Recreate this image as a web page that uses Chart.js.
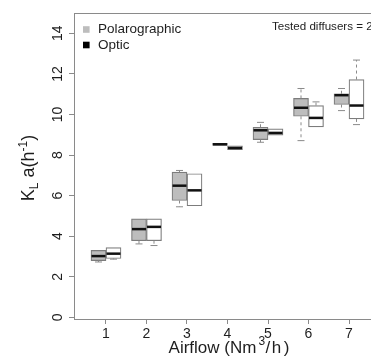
<!DOCTYPE html>
<html>
<head>
<meta charset="utf-8">
<script src="https://cdn.jsdelivr.net/npm/chart.js@4"></script>
<style>
html,body{margin:0;padding:0;overflow:hidden;background:#fff;}
#wrap{width:400px;height:359px;position:relative;}
</style>
</head>
<body>
<div id="wrap"><canvas id="c"></canvas></div>
<script>
// ---- data ----
const airflow = [1, 2, 3, 4, 5, 6, 7];
const xTickLabels = ['1', '2', '3', '4', '5', '6', '7'];
const yTickValues = [0, 2, 4, 6, 8, 10, 12, 14];

// Polarographic probe (grey boxes)
const polMin    = [2.73, 3.62, 5.45, 8.46, 8.63, 8.71, 10.19];
const polQ1     = [2.80, 3.78, 5.76, 8.48, 8.76, 9.91, 10.49];
const polMedian = [3.02, 4.35, 6.49, 8.53, 9.22, 10.33, 10.95];
const polQ3     = [3.30, 4.86, 7.16, 8.58, 9.37, 10.79, 11.02];
const polMax    = [3.32, 4.86, 7.24, 8.60, 9.61, 11.28, 11.28];

// Optic probe (white boxes)
const optMin    = [2.87, 3.54, 5.50, 8.25, 8.96, 9.39, 9.50];
const optQ1     = [2.90, 3.78, 5.50, 8.27, 8.98, 9.39, 9.78];
const optMedian = [3.14, 4.46, 6.26, 8.35, 9.09, 9.83, 10.44];
const optQ3     = [3.44, 4.86, 7.08, 8.46, 9.29, 10.44, 11.72];
const optMax    = [3.46, 4.86, 7.08, 8.48, 9.30, 10.62, 12.68];

const seriesNames = ['Polarographic', 'Optic'];
const annotationText = 'Tested diffusers = 2';

// ---- styling ----
const AXIS = '#8a8a8a';
const TEXT = '#1e1e1e';
const FONT = '"Liberation Sans", Arial, Helvetica, sans-serif';

const stats = [
  {min: polMin, q1: polQ1, med: polMedian, q3: polQ3, max: polMax},
  {min: optMin, q1: optQ1, med: optMedian, q3: optQ3, max: optMax}
];

const boxExtras = {
  id: 'boxExtras',
  afterDatasetsDraw(chart) {
    const ctx = chart.ctx;
    const ys = chart.scales.y;
    stats.forEach((s, d) => {
      const meta = chart.getDatasetMeta(d);
      meta.data.forEach((bar, i) => {
        const cx = bar.x;
        const w = bar.width;
        const pMin = ys.getPixelForValue(s.min[i]);
        const pQ1 = ys.getPixelForValue(s.q1[i]);
        const pQ3 = ys.getPixelForValue(s.q3[i]);
        const pMax = ys.getPixelForValue(s.max[i]);
        const pMed = ys.getPixelForValue(s.med[i]);
        ctx.save();
        ctx.strokeStyle = AXIS;
        ctx.lineWidth = 1;
        ctx.setLineDash([3, 3]);
        ctx.beginPath();
        if (pMax < pQ3 - 0.5) { ctx.moveTo(cx, pQ3); ctx.lineTo(cx, pMax); }
        if (pMin > pQ1 + 0.5) { ctx.moveTo(cx, pQ1); ctx.lineTo(cx, pMin); }
        ctx.stroke();
        ctx.setLineDash([]);
        ctx.beginPath();
        const cap = 3.5;
        if (pMax < pQ3 - 0.5) { ctx.moveTo(cx - cap, pMax); ctx.lineTo(cx + cap, pMax); }
        if (pMin > pQ1 + 0.5) { ctx.moveTo(cx - cap, pMin); ctx.lineTo(cx + cap, pMin); }
        ctx.stroke();
        ctx.strokeStyle = '#111';
        ctx.lineWidth = 2.5;
        ctx.beginPath();
        ctx.moveTo(cx - w / 2 + 0.5, pMed);
        ctx.lineTo(cx + w / 2 - 0.5, pMed);
        ctx.stroke();
        ctx.restore();
      });
    });
  },
  afterDraw(chart) {
    const ctx = chart.ctx;
    const a = chart.chartArea;
    ctx.save();
    // top frame line
    ctx.strokeStyle = AXIS;
    ctx.lineWidth = 1;
    ctx.beginPath();
    ctx.moveTo(a.left, Math.round(a.top) + 0.5);
    ctx.lineTo(a.right, Math.round(a.top) + 0.5);
    ctx.stroke();

    // legend
    const legendColors = ['#bdbdbd', '#000000'];
    ctx.textBaseline = 'middle';
    ctx.textAlign = 'left';
    ctx.font = '13.5px ' + FONT;
    seriesNames.forEach((name, k) => {
      const yy = 29.5 + k * 15.5;
      ctx.fillStyle = legendColors[k];
      ctx.fillRect(83, yy - 3.3, 6.6, 6.6);
      ctx.fillStyle = TEXT;
      ctx.fillText(name, 98, yy);
    });

    // annotation
    ctx.font = '11.6px ' + FONT;
    ctx.fillText(annotationText, 272, 27);

    // x title: Airflow (Nm^3/h)
    const xParts = [
      {t: 'Airflow (Nm', s: 17, dy: 0, gap: 0},
      {t: '3', s: 12, dy: -8, gap: 2},
      {t: '/', s: 17, dy: 0, gap: 0.5},
      {t: 'h', s: 17, dy: 0, gap: 1.5},
      {t: ')', s: 17, dy: 0, gap: 2.5}
    ];
    drawParts(ctx, xParts, 229, 353, 0);

    // y title: K_L a(h^-1)
    const yParts = [
      {t: 'K', s: 18, dy: 0, gap: 0},
      {t: 'L', s: 12, dy: 4, gap: 0},
      {t: ' a(h', s: 18, dy: 0, gap: 0},
      {t: '-1', s: 12, dy: -7, gap: 0},
      {t: ')', s: 18, dy: 0, gap: 0}
    ];
    drawParts(ctx, yParts, 34, 168, -Math.PI / 2);
    ctx.restore();
  }
};

function drawParts(ctx, parts, cx, cy, rot) {
  let total = 0;
  parts.forEach(p => { ctx.font = p.s + 'px ' + FONT; p.w = ctx.measureText(p.t).width; total += p.w + p.gap; });
  ctx.save();
  ctx.translate(cx, cy);
  ctx.rotate(rot);
  ctx.fillStyle = TEXT;
  ctx.textAlign = 'left';
  ctx.textBaseline = 'alphabetic';
  let x = -total / 2;
  parts.forEach(p => {
    x += p.gap;
    ctx.font = p.s + 'px ' + FONT;
    ctx.fillText(p.t, x, p.dy);
    x += p.w;
  });
  ctx.restore();
}

const chart = new Chart(document.getElementById('c'), {
  type: 'bar',
  data: {
    datasets: [
      {
        label: seriesNames[0],
        data: airflow.map((x, i) => ({x: x, y: [polQ1[i], polQ3[i]]})),
        backgroundColor: '#bdbdbd',
        borderColor: '#7c7c7c',
        borderWidth: 1.2,
        borderSkipped: false,
        barThickness: 15
      },
      {
        label: seriesNames[1],
        data: airflow.map((x, i) => ({x: x, y: [optQ1[i], optQ3[i]]})),
        backgroundColor: '#ffffff',
        borderColor: '#7c7c7c',
        borderWidth: 1.2,
        borderSkipped: false,
        barThickness: 15
      }
    ]
  },
  options: {
    responsive: true,
    maintainAspectRatio: false,
    animation: false,
    devicePixelRatio: 1,
    layout: {padding: {top: 13, right: 19, left: 0, bottom: 0}},
    plugins: {legend: {display: false}, tooltip: {enabled: false}},
    scales: {
      x: {
        type: 'linear',
        offset: false,
        min: 0.21,
        max: 7.79,
        afterBuildTicks: s => { s.ticks = airflow.map(v => ({value: v})); },
        afterFit: s => { s.height = 40; },
        grid: {display: true, drawOnChartArea: false, drawTicks: true, tickLength: 5, tickColor: AXIS, offset: false},
        border: {display: true, color: AXIS, width: 1},
        ticks: {
          font: {family: FONT, size: 14},
          color: TEXT,
          padding: 2,
          maxRotation: 0,
          autoSkip: false,
          callback: (v) => xTickLabels[airflow.indexOf(v)] ?? ''
        }
      },
      y: {
        min: -0.08,
        max: 15,
        afterBuildTicks: s => { s.ticks = yTickValues.map(v => ({value: v})); },
        afterFit: s => { s.width = 74; },
        grid: {display: true, drawOnChartArea: false, drawTicks: true, tickLength: 5, tickColor: AXIS},
        border: {display: true, color: AXIS, width: 1},
        ticks: {
          font: {family: FONT, size: 14},
          color: TEXT,
          padding: 3,
          minRotation: 90,
          maxRotation: 90,
          crossAlign: 'center',
          autoSkip: false,
          callback: v => String(v)
        }
      }
    }
  },
  plugins: [boxExtras]
});
</script>
</body>
</html>
